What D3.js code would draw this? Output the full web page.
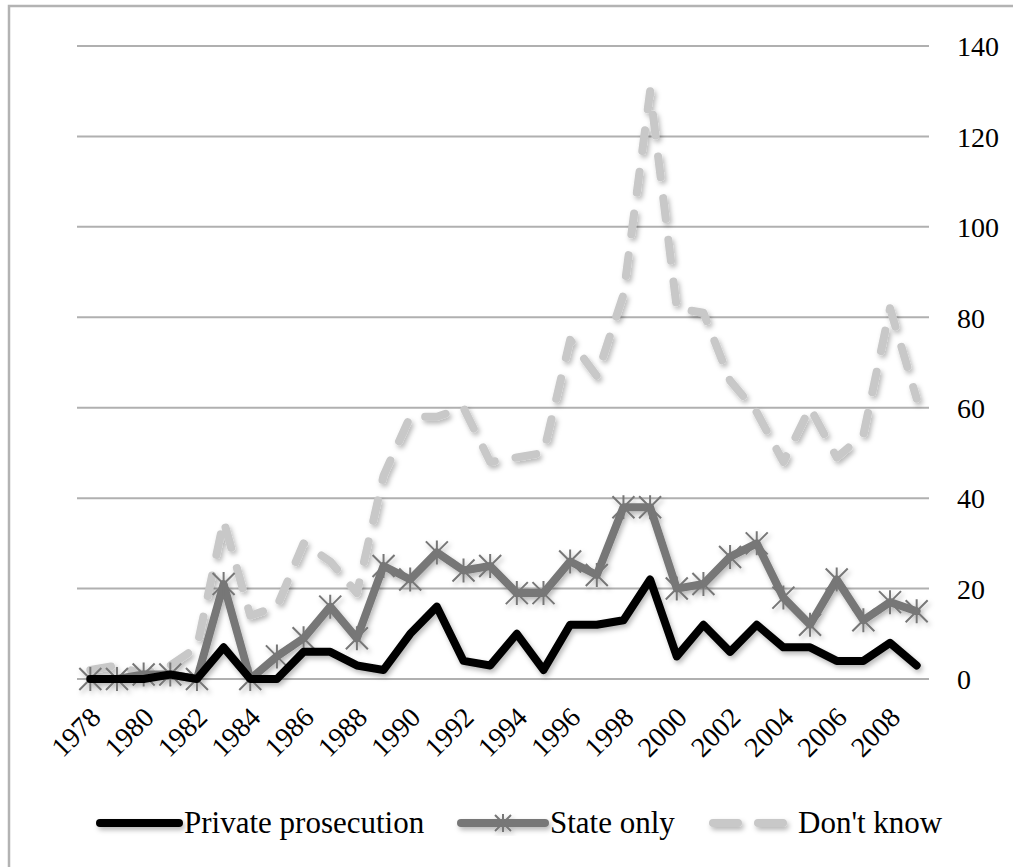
<!DOCTYPE html>
<html>
<head>
<meta charset="utf-8">
<script src="https://cdn.jsdelivr.net/npm/d3@7"></script>
<style>
  html, body { margin: 0; padding: 0; background: #fff; }
  svg { display: block; }
  text { font-family: "Liberation Serif", "Times New Roman", serif; fill: #000; }
</style>
</head>
<body>
<svg id="chart" width="1013" height="867"></svg>
<script>
const years = d3.range(1978, 2010);
const tickYears = [1978,1980,1982,1984,1986,1988,1990,1992,1994,1996,1998,2000,2002,2004,2006,2008];
const yTicks = [0,20,40,60,80,100,120,140];
const privateProsecution = [0,0,0,1,0,7,0,0,6,6,3,2,10,16,4,3,10,2,12,12,13,22,5,12,6,12,7,7,4,4,8,3];
const stateOnly = [0,0,1,1,0,21,0,5,9,16,9,25,22,28,24,25,19,19,26,23,38,38,20,21,27,30,18,12,22,13,17,15];
const dontKnow = [2,3,1,3,7,35,14,16,30,26,19,45,58,58,60,48,49,50,75,67,85,130,82,81,66,59,48,60,49,54,82,62];
const seriesNames = ["Private prosecution", "State only", "Don't know"];

const svg = d3.select("#chart");
const W = 1013, H = 867;

// outer frame
svg.append("path").attr("d", `M9,${H} V6 H${W}`).attr("fill","none")
  .attr("stroke","#b3b3b3").attr("stroke-width",2.5);

const defs = svg.append("defs");
const f = defs.append("filter").attr("id","shadow").attr("x","-20%").attr("y","-20%").attr("width","140%").attr("height","140%");
f.append("feDropShadow").attr("dx",2).attr("dy",3).attr("stdDeviation",2.5).attr("flood-color","#000").attr("flood-opacity",0.28);

const x = d3.scalePoint().domain(years).range([77, 930]).padding(0.5);
const y = d3.scaleLinear().domain([0, 140]).range([679, 46]);

// gridlines
svg.append("g").selectAll("line").data(yTicks).join("line")
  .attr("x1", 77).attr("x2", 929)
  .attr("y1", d => y(d)).attr("y2", d => y(d))
  .attr("stroke", "#b0b0b0").attr("stroke-width", 2);

// right axis labels
const yAxis = d3.axisRight(y).tickValues(yTicks).tickSize(0).tickPadding(0);
const ya = svg.append("g").attr("transform", "translate(957,0)").call(yAxis);
ya.select(".domain").remove();
ya.selectAll("text").attr("font-family", '"Liberation Serif", serif').attr("font-size", 28).attr("fill","#000").attr("dy","0.35em");

// bottom axis labels
const xAxis = d3.axisBottom(x).tickValues(tickYears).tickSize(0).tickPadding(0);
const xa = svg.append("g").call(xAxis);
xa.select(".domain").remove();
xa.selectAll(".tick").attr("transform", d => `translate(${x(d) + 12},719)`);
xa.selectAll("text").attr("font-family", '"Liberation Serif", serif').attr("font-size", 28).attr("fill","#000")
  .attr("text-anchor","end").attr("dy", 0).attr("y", 0).attr("transform","rotate(-45)");

const line = d3.line().x((d, i) => x(years[i])).y(d => y(d)).curve(d3.curveLinear);

const gLines = svg.append("g").attr("filter","url(#shadow)");

// Don't know
gLines.append("path").datum(dontKnow).attr("d", line).attr("fill","none")
  .attr("stroke","#c8c8c8").attr("stroke-width",8).attr("stroke-linecap","round")
  .attr("stroke-linejoin","round").attr("stroke-dasharray","21,21");

// State only
gLines.append("path").datum(stateOnly).attr("d", line).attr("fill","none")
  .attr("stroke","#777777").attr("stroke-width",8).attr("stroke-linejoin","round").attr("stroke-linecap","round");

function asterisk(g, cx, cy, s) {
  const p = `M${cx-s},${cy-s}L${cx+s},${cy+s}M${cx-s},${cy+s}L${cx+s},${cy-s}M${cx},${cy-s-1}L${cx},${cy+s+1}`;
  g.append("path").attr("d", p).attr("stroke","#777777").attr("stroke-width",2).attr("fill","none");
}
const gm = gLines.append("g");
stateOnly.forEach((v, i) => asterisk(gm, x(years[i]), y(v), 11));

// Private prosecution
gLines.append("path").datum(privateProsecution).attr("d", line).attr("fill","none")
  .attr("stroke","#000").attr("stroke-width",8).attr("stroke-linejoin","round").attr("stroke-linecap","round");

// legend
const lg = svg.append("g").attr("filter","url(#shadow)");
const ly = 823;
lg.append("line").attr("x1",100).attr("x2",179).attr("y1",ly).attr("y2",ly)
  .attr("stroke","#000").attr("stroke-width",8).attr("stroke-linecap","round");
lg.append("line").attr("x1",461).attr("x2",545).attr("y1",ly).attr("y2",ly)
  .attr("stroke","#777777").attr("stroke-width",8).attr("stroke-linecap","round");
asterisk(lg, 503, ly, 8);
lg.append("line").attr("x1",713).attr("x2",783).attr("y1",ly).attr("y2",ly)
  .attr("stroke","#c8c8c8").attr("stroke-width",8).attr("stroke-linecap","round").attr("stroke-dasharray","25,20");

const lt = svg.append("g").attr("font-size",31);
lt.append("text").attr("x",184).attr("y",ly+10).text(seriesNames[0]);
lt.append("text").attr("x",550).attr("y",ly+10).text(seriesNames[1]);
lt.append("text").attr("x",798).attr("y",ly+10).text(seriesNames[2]);
</script>
</body>
</html>
